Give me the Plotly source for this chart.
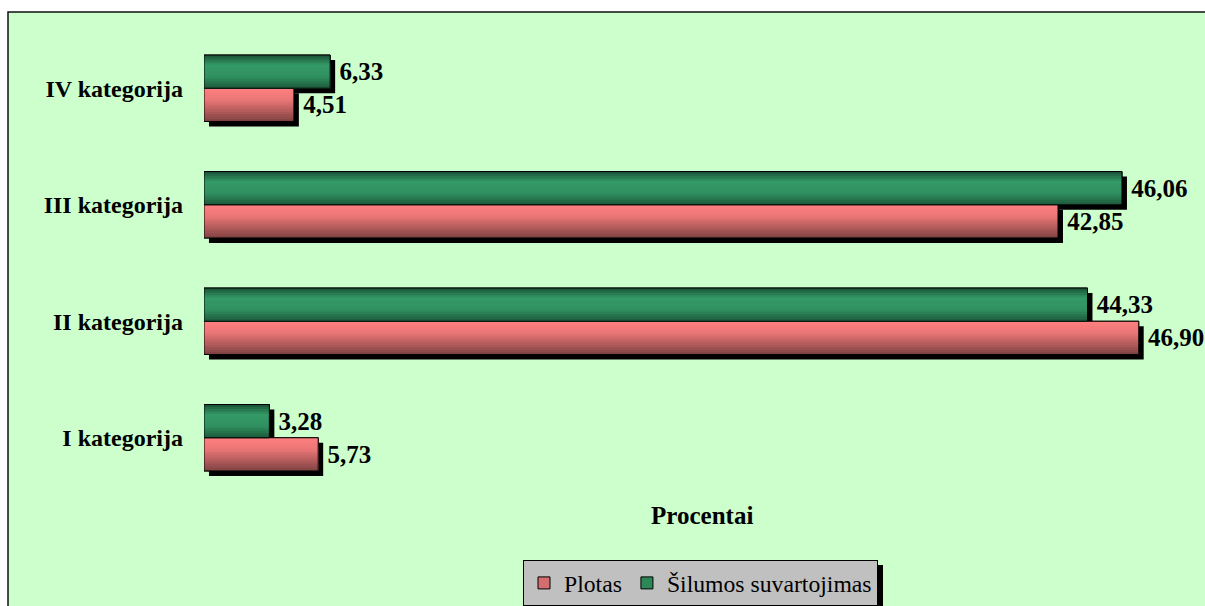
import plotly.graph_objects as go

categories = ["I kategorija", "II kategorija", "III kategorija", "IV kategorija"]
plotas = [5.73, 46.90, 42.85, 4.51]
silumos = [3.28, 44.33, 46.06, 6.33]
series_names = ["Plotas", "Šilumos suvartojimas"]

W, H = 1205, 606
FONT = "Liberation Serif, Times New Roman, serif"

# vertical shading of each bar, top -> bottom
red_stops = [(0.0, (255, 128, 128)), (0.35, (235, 118, 118)), (1.0, (128, 66, 66))]
green_stops = [(0.0, (26, 82, 53)), (0.3, (51, 153, 102)), (0.65, (48, 145, 96)), (1.0, (28, 88, 58))]


def fmt(v):
    # decimal comma, with a small gap so the label clears the bar shadow
    return "\u00a0" + f"{v:.2f}".replace(".", ",")


def shade(stops, t):
    for (t0, c0), (t1, c1) in zip(stops, stops[1:]):
        if t <= t1:
            f = (t - t0) / (t1 - t0) if t1 > t0 else 0
            return "rgb(%d,%d,%d)" % tuple(round(a + (b - a) * f) for a, b in zip(c0, c1))
    return "rgb(%d,%d,%d)" % stops[-1][1]


fig = go.Figure()

label_font = dict(family=FONT, size=25, color="black", weight="bold")
fig.add_trace(go.Bar(
    y=list(range(len(categories))), x=plotas, orientation="h", name=series_names[0],
    marker=dict(color="#d46e6e", line=dict(color="black", width=1)),
    text=[fmt(v) for v in plotas], textposition="outside", cliponaxis=False,
    textfont=label_font, outsidetextfont=label_font,
))
fig.add_trace(go.Bar(
    y=list(range(len(categories))), x=silumos, orientation="h", name=series_names[1],
    marker=dict(color="#2c8757", line=dict(color="black", width=1)),
    text=[fmt(v) for v in silumos], textposition="outside", cliponaxis=False,
    textfont=label_font, outsidetextfont=label_font,
))

bargap = 0.43
bw = (1 - bargap) / 2
dx = 0.25   # shadow offset in x units
dy = 0.043  # shadow offset in category units
n_strips = 14

shapes = [
    # chart area background with frame
    dict(type="rect", xref="paper", yref="paper", x0=8 / W, x1=1.02, y0=-0.02, y1=1 - 12 / H,
         fillcolor="#ccffcc", line=dict(color="#111", width=1.5), layer="below"),
]
for i in range(len(categories)):
    for vals, lo, stops in ((plotas, i - bw, red_stops), (silumos, i, green_stops)):
        v = vals[i]
        # drop shadow
        shapes.append(dict(type="rect", xref="x", yref="y",
                           x0=dx, x1=v + dx, y0=lo - dy, y1=lo + bw - dy,
                           fillcolor="black", line=dict(width=0), layer="below"))
        # shading bands over the bar, each reaching down to the bar base so no seams show
        for j in range(n_strips):
            top = lo + bw - bw * j / n_strips
            shapes.append(dict(type="rect", xref="x", yref="y",
                               x0=0, x1=v, y0=lo, y1=top,
                               fillcolor=shade(stops, (j + 0.5) / n_strips),
                               line=dict(width=0), layer="above"))
        # bar outline
        shapes.append(dict(type="rect", xref="x", yref="y",
                           x0=0, x1=v, y0=lo, y1=lo + bw,
                           fillcolor="rgba(0,0,0,0)", line=dict(color="black", width=1),
                           layer="above"))

# legend box shadow
lx0, lx1, ly0, ly1 = 523, 878, 560, 603
shapes.append(dict(type="rect", xref="paper", yref="paper",
                   x0=(lx0 + 5) / W, x1=(lx1 + 5) / W, y0=1 - (ly1 + 5) / H, y1=1 - (ly0 + 5) / H,
                   fillcolor="black", line=dict(width=0), layer="above"))

x_scale = 19.93  # px per percent
fig.update_layout(
    width=W, height=H,
    margin=dict(l=0, r=0, t=0, b=0),
    paper_bgcolor="white", plot_bgcolor="rgba(0,0,0,0)",
    barmode="group", bargap=bargap, bargroupgap=0,
    shapes=shapes,
    font=dict(family=FONT, color="black"),
    xaxis=dict(domain=[204 / W, (204 + 50 * x_scale) / W], range=[0, 50],
               showgrid=False, zeroline=False, showline=False, showticklabels=False, ticks="",
               title=dict(text="<b>Procentai</b>", font=dict(family=FONT, size=25), standoff=10)),
    yaxis=dict(domain=[1 - 496 / H, 1 - 30 / H], range=[-0.5, 3.5],
               tickmode="array", tickvals=list(range(len(categories))), ticktext=categories,
               showgrid=False, zeroline=False, showline=False, ticks="",
               ticklabelstandoff=20,
               tickfont=dict(family=FONT, size=24, color="black", weight="bold")),
    legend=dict(orientation="h", x=lx0 / W, xanchor="left", y=1 - ly0 / H, yanchor="top",
                bgcolor="#c0c0c0", bordercolor="black", borderwidth=1,
                font=dict(family=FONT, size=23.7, color="black"),
                itemwidth=30, traceorder="normal"),
    showlegend=True,
)

fig.write_html("out.html")
